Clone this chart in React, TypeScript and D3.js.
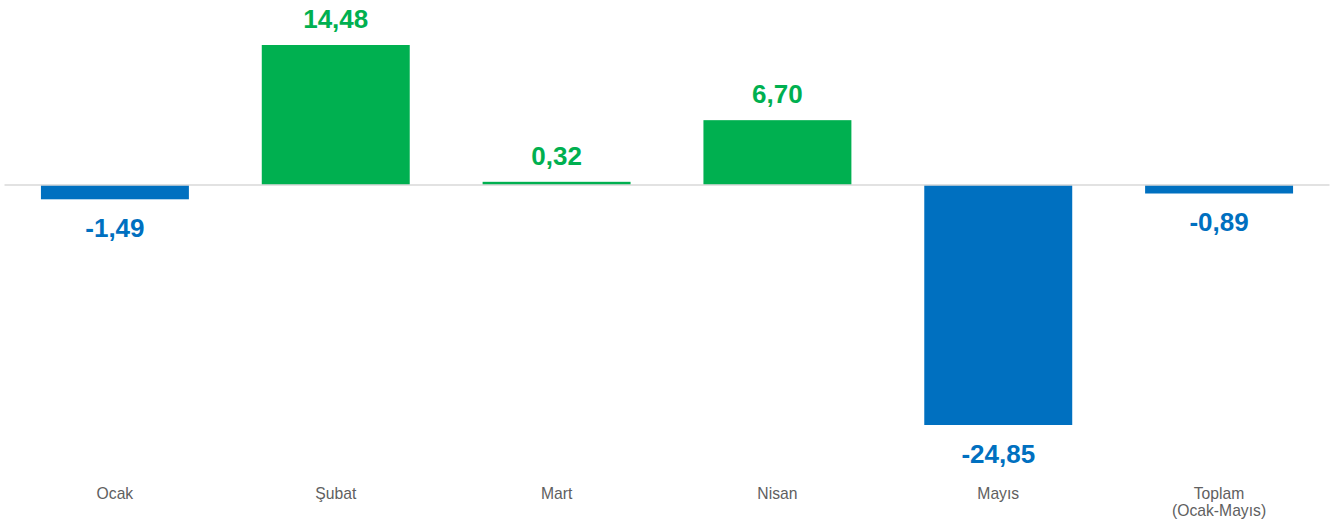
import React from "react";
import * as d3 from "d3";

const categories: string[][] = [["Ocak"], ["Şubat"], ["Mart"], ["Nisan"], ["Mayıs"], ["Toplam", "(Ocak-Mayıs)"]];
const values: number[] = [-1.49, 14.48, 0.32, 6.7, -24.85, -0.89];

const W = 1336;
const H = 526;
const GREEN = "#00b050";
const BLUE = "#0070c0";

export default function App() {
  const keys = categories.map((c) => c.join(" "));
  const x = d3.scaleBand<string>().domain(keys).range([4.5, 1329.5]).paddingInner(0.33).paddingOuter(0.165);
  const y = d3.scaleLinear().domain([-24.85, 14.48]).range([425, 45]);
  const y0 = y(0);
  const fmt = (v: number) => d3.format(".2f")(v).replace(".", ",").replace("−", "-");
  const font = "'Liberation Sans', Arial, sans-serif";

  return (
    <svg width={W} height={H} style={{ position: "absolute", left: 0, top: 0, background: "#fff" }}>
      {values.map((v, i) => {
        const k = keys[i];
        const x0 = x(k)!;
        const bw = x.bandwidth();
        const h = Math.abs(y(v) - y0);
        const color = v >= 0 ? GREEN : BLUE;
        const cx = x0 + bw / 2;
        const labelY = v >= 0 ? y(v) - 17 : y(v) + 37.5;
        return (
          <g key={k}>
            <rect x={x0} y={v >= 0 ? y(v) : y0} width={bw} height={Math.max(h, 1.5)} fill={color} />
            <text x={cx} y={labelY} textAnchor="middle" fontFamily={font} fontWeight="bold" fontSize={26} fill={color}>
              {fmt(v)}
            </text>
            {categories[i].map((line, j) => (
              <text key={j} x={cx} y={499 + j * 17} textAnchor="middle" fontFamily={font} fontSize={15.7} fill="#606060">
                {line}
              </text>
            ))}
          </g>
        );
      })}
      <line x1={4.5} x2={1329.5} y1={y0} y2={y0} stroke="#d9d9d9" strokeWidth={1.5} />
    </svg>
  );
}
